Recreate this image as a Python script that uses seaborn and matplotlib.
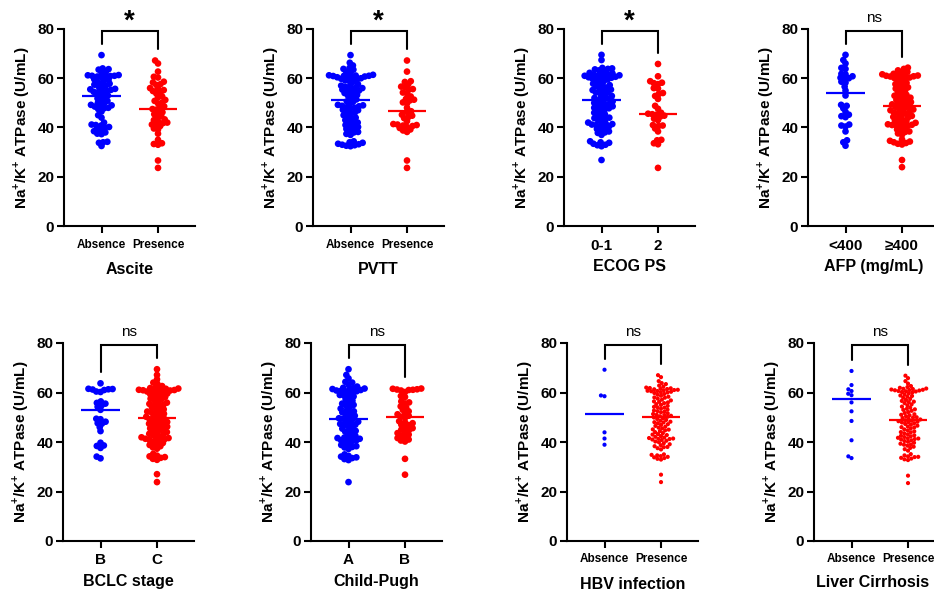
import numpy as np
import pandas as pd
import matplotlib
matplotlib.use("Agg")
import matplotlib.pyplot as plt
import seaborn as sns

BLUE = "#0000FF"
RED = "#FF0000"

# Na+/K+ ATPase values (U/mL)
ascite_absence = [69.4, 64.0, 63.7, 63.5, 62.5, 62.3, 61.3, 61.2, 61.0, 61.0, 60.9, 60.8, 60.7, 60.5,
                  59.6, 59.4, 59.2, 58.6, 58.0, 57.8, 57.4, 57.0, 56.8, 56.2, 55.7, 55.5, 55.3, 55.0,
                  54.8, 54.5, 54.2, 53.6, 53.0, 52.8, 52.0, 51.8, 51.0, 50.8, 50.0, 49.8, 49.2, 49.0,
                  48.8, 48.5, 48.0, 47.8, 47.5, 46.5, 45.0, 44.0, 42.0, 41.2, 41.0, 40.8, 40.2, 40.0,
                  39.5, 39.0, 38.5, 38.0, 37.5, 37.3, 34.2, 34.0, 33.8, 32.5]
ascite_presence = [67.2, 66.0, 62.7, 60.6, 60.3, 58.6, 58.3, 57.6, 57.3, 56.0, 55.8, 55.2, 54.8, 54.2,
                   53.8, 52.6, 52.3, 51.2, 50.8, 50.1, 49.8, 48.6, 48.3, 47.5, 47.3, 46.2, 45.8, 45.4,
                   44.6, 44.2, 43.3, 43.0, 42.6, 42.0, 41.8, 41.2, 41.0, 40.6, 39.6, 39.2, 37.5, 35.0,
                   33.6, 33.3, 33.0, 26.6, 23.6]

pvtt_absence = [69.4, 66.3, 65.2, 64.2, 63.8, 63.5, 62.6, 62.3, 61.4, 61.2, 61.1, 61.0, 61.0, 60.9,
                60.7, 60.6, 60.4, 60.2, 60.0, 59.8, 59.5, 59.2, 59.0, 58.6, 57.6, 57.4, 57.0, 56.6,
                56.2, 56.0, 55.8, 55.4, 55.2, 55.0, 54.6, 54.2, 54.0, 53.2, 53.0, 52.8, 51.6, 51.4,
                50.6, 50.4, 49.4, 49.2, 49.0, 48.8, 48.6, 48.2, 48.0, 47.8, 47.2, 47.0, 46.4, 46.0,
                45.8, 45.0, 44.4, 44.0, 43.8, 43.0, 42.4, 42.0, 41.8, 41.0, 40.8, 40.2, 40.0, 39.4,
                39.0, 38.2, 38.0, 37.4, 37.0, 34.4, 34.0, 33.8, 33.4, 33.2, 33.0, 32.8, 32.6, 32.4]
pvtt_presence = [67.2, 62.7, 58.8, 58.5, 57.5, 56.6, 56.3, 55.6, 55.3, 54.2, 53.8, 52.6, 51.6, 51.3,
                 51.0, 50.2, 49.8, 48.0, 46.6, 46.3, 45.2, 44.8, 44.2, 43.8, 42.6, 41.4, 41.2, 41.0,
                 40.8, 40.6, 40.2, 39.8, 39.2, 38.8, 38.2, 26.6, 23.6]

ecog_01 = [69.5, 67.4, 64.2, 64.0, 63.8, 63.6, 63.2, 62.8, 62.2, 62.0, 61.8, 61.6, 61.4, 61.2, 61.0,
           60.9, 60.8, 60.6, 60.4, 60.2, 60.0, 59.8, 59.5, 59.2, 58.8, 58.2, 57.8, 57.2, 57.0, 56.8,
           56.2, 55.8, 55.4, 55.2, 55.0, 54.4, 54.2, 54.0, 53.2, 52.8, 52.4, 52.0, 51.8, 51.4, 51.0,
           50.6, 50.2, 50.0, 49.6, 49.2, 49.0, 48.6, 48.4, 48.0, 47.8, 47.4, 47.0, 46.4, 46.0, 45.4,
           45.0, 44.4, 44.0, 43.8, 43.4, 43.0, 42.4, 42.0, 41.6, 41.4, 41.2, 41.0, 40.8, 40.4, 40.0,
           39.4, 39.0, 38.4, 38.0, 37.8, 37.0, 34.4, 34.0, 33.8, 33.4, 33.0, 32.8, 32.4, 26.8]
ecog_2 = [65.8, 60.8, 58.8, 58.2, 58.0, 57.6, 56.0, 55.8, 54.0, 53.6, 52.8, 51.6, 48.8, 47.6, 46.0,
          45.6, 45.4, 45.2, 44.8, 44.4, 43.6, 43.0, 41.0, 40.8, 40.6, 39.6, 38.4, 35.0, 34.8, 33.6,
          33.2, 23.6]

afp_low = [69.5, 67.4, 66.0, 64.2, 63.8, 61.8, 61.6, 60.8, 60.2, 60.0, 59.8, 58.6, 58.2, 56.6, 55.0,
           53.0, 49.2, 48.8, 47.8, 46.4, 45.2, 44.6, 44.2, 41.2, 40.8, 40.4, 38.4, 34.8, 34.0, 32.6]
afp_high = [64.3, 63.8, 63.2, 62.6, 62.4, 61.8, 61.6, 61.5, 61.3, 61.1, 61.0, 60.8, 60.7, 60.5, 60.3,
            60.1, 59.7, 59.2, 58.9, 58.1, 57.6, 57.2, 56.9, 56.3, 55.8, 55.6, 55.1, 54.4, 54.0, 53.3,
            52.9, 52.7, 52.4, 52.1, 51.6, 51.2, 50.8, 50.3, 50.0, 49.7, 49.4, 49.1, 48.8, 48.4, 48.1,
            47.7, 47.3, 47.0, 46.8, 46.5, 46.1, 45.9, 45.6, 45.2, 44.7, 44.3, 44.0, 43.9, 43.4, 42.8,
            42.5, 42.3, 41.9, 41.6, 41.3, 41.1, 41.0, 40.9, 40.7, 40.3, 39.8, 39.2, 38.7, 38.4, 38.2,
            37.6, 37.1, 35.2, 34.6, 34.3, 34.0, 33.7, 33.4, 33.1, 26.8, 23.9]

bclc_b = [63.7, 61.5, 61.4, 61.3, 61.2, 61.0, 60.4, 60.2, 56.4, 55.8, 55.5, 54.8, 54.2, 53.0, 49.4,
          49.2, 48.2, 47.6, 47.4, 46.0, 44.4, 39.7, 38.6, 38.4, 37.6, 34.1, 33.4]
bclc_c = [69.4, 67.1, 65.3, 64.0, 63.5, 62.6, 62.0, 61.8, 61.6, 61.5, 61.3, 61.1, 61.0, 60.9, 60.8,
          60.6, 60.4, 60.2, 60.0, 59.6, 59.3, 59.0, 58.5, 58.2, 57.8, 57.5, 57.3, 56.8, 56.2, 55.9,
          55.4, 55.2, 55.0, 54.6, 54.1, 53.6, 53.2, 52.8, 52.3, 52.0, 51.9, 51.4, 51.1, 50.6, 50.2,
          49.8, 49.5, 49.2, 48.9, 48.5, 48.1, 47.8, 47.4, 47.2, 47.0, 46.6, 46.2, 45.8, 45.5, 45.3,
          44.9, 44.4, 44.0, 43.6, 43.3, 43.1, 42.7, 42.2, 41.9, 41.6, 41.5, 41.3, 41.1, 40.8, 40.5,
          40.1, 39.6, 39.2, 38.8, 38.3, 37.8, 37.3, 35.2, 34.5, 34.2, 33.9, 33.6, 33.2, 32.8, 27.0,
          23.8]

child_a = [69.4, 67.1, 65.7, 64.3, 64.0, 63.2, 62.4, 61.9, 61.7, 61.6, 61.4, 61.2, 61.0, 60.8, 60.6,
           60.5, 60.4, 60.1, 59.6, 59.0, 58.8, 58.4, 57.9, 57.3, 56.7, 56.1, 55.5, 55.0, 54.8, 54.2,
           53.5, 53.0, 52.4, 52.0, 51.8, 51.2, 50.6, 50.1, 49.6, 49.4, 49.2, 48.7, 48.2, 47.8, 47.3,
           47.0, 46.9, 46.4, 45.9, 45.4, 44.8, 44.5, 44.2, 43.6, 43.0, 42.5, 42.0, 41.8, 41.6, 41.3,
           41.0, 40.7, 40.5, 40.3, 39.8, 39.3, 38.8, 38.3, 38.0, 37.8, 37.2, 35.0, 34.4, 34.1, 33.8,
           33.5, 33.1, 32.7, 23.8]
child_b = [61.6, 61.5, 61.3, 61.2, 61.1, 61.0, 60.8, 60.2, 58.6, 58.2, 56.4, 56.0, 55.6, 54.4, 54.0,
           53.0, 52.4, 51.6, 51.2, 50.6, 50.2, 49.8, 48.4, 48.0, 47.6, 47.0, 46.8, 46.2, 45.6, 45.0,
           44.8, 44.2, 43.6, 43.0, 42.6, 42.2, 41.6, 41.0, 40.6, 40.2, 33.2, 26.8]

hbv_absence = [69.2, 58.8, 58.5, 43.9, 41.4, 38.9]
hbv_presence = [67.0, 66.2, 64.6, 63.8, 63.4, 62.8, 62.4, 62.0, 61.8, 61.7, 61.5, 61.4, 61.3, 61.1,
                61.0, 60.9, 60.7, 60.6, 60.5, 60.3, 60.1, 60.0, 59.8, 59.4, 59.1, 58.7, 58.3, 58.0,
                57.9, 57.5, 57.1, 56.8, 56.4, 56.2, 56.0, 55.7, 55.3, 55.0, 54.6, 54.2, 54.0, 53.9,
                53.5, 53.1, 52.7, 52.5, 52.3, 52.0, 51.6, 51.3, 51.0, 50.9, 50.6, 50.4, 50.2, 49.9,
                49.6, 49.3, 48.9, 48.6, 48.2, 48.0, 47.9, 47.6, 47.2, 46.9, 46.5, 46.2, 45.8, 45.5,
                45.1, 45.0, 44.7, 44.4, 44.0, 43.6, 43.2, 43.0, 42.8, 42.4, 42.1, 41.8, 41.6, 41.4,
                41.3, 41.2, 41.0, 40.8, 40.5, 40.2, 39.9, 39.5, 39.1, 38.7, 38.3, 38.0, 37.9, 37.5,
                37.0, 35.0, 34.8, 34.6, 34.3, 34.0, 33.8, 33.5, 33.2, 32.9, 26.8, 23.8]

lc_absence = [68.7, 63.0, 61.3, 60.6, 59.5, 58.9, 56.0, 52.4, 48.5, 40.7, 34.2, 33.5]
lc_presence = [66.8, 65.8, 64.6, 63.6, 62.6, 62.2, 61.9, 61.6, 61.5, 61.4, 61.2, 61.1, 61.0, 60.9,
               60.8, 60.6, 60.5, 60.4, 60.2, 60.0, 59.6, 59.2, 58.8, 58.6, 58.3, 57.9, 57.4, 57.0,
               56.6, 56.3, 56.1, 55.7, 55.2, 54.8, 54.3, 53.9, 53.4, 53.2, 53.0, 52.6, 52.1, 51.7,
               51.2, 51.0, 50.8, 50.4, 50.0, 49.9, 49.7, 49.4, 49.1, 48.8, 48.6, 48.4, 48.2, 48.0,
               47.9, 47.6, 47.3, 47.0, 46.6, 46.3, 46.0, 45.9, 45.5, 45.1, 44.7, 44.3, 44.0, 43.9,
               43.5, 43.1, 42.7, 42.5, 42.3, 42.0, 41.7, 41.5, 41.4, 41.2, 41.0, 40.7, 40.4, 40.1,
               39.7, 39.3, 39.0, 38.9, 38.5, 38.1, 37.6, 37.1, 36.5, 35.1, 34.6, 34.2, 34.0, 33.9,
               33.6, 33.3, 33.0, 32.7, 26.4, 23.4]

# (x title, category labels, group A, group B, significance)
panels = [
    ("Ascite", ["Absence", "Presence"], ascite_absence, ascite_presence, "*"),
    ("PVTT", ["Absence", "Presence"], pvtt_absence, pvtt_presence, "*"),
    ("ECOG PS", ["0-1", "2"], ecog_01, ecog_2, "*"),
    ("AFP (mg/mL)", ["<400", "≥400"], afp_low, afp_high, "ns"),
    ("BCLC stage", ["B", "C"], bclc_b, bclc_c, "ns"),
    ("Child-Pugh", ["A", "B"], child_a, child_b, "ns"),
    ("HBV infection", ["Absence", "Presence"], hbv_absence, hbv_presence, "ns"),
    ("Liver Cirrhosis", ["Absence", "Presence"], lc_absence, lc_presence, "ns"),
]

sns.set_style("ticks")
plt.rcParams["font.family"] = ["Liberation Sans", "DejaVu Sans"]
plt.rcParams["mathtext.fontset"] = "custom"
plt.rcParams["mathtext.rm"] = "Liberation Sans"
plt.rcParams["mathtext.bf"] = "Liberation Sans:bold"
for key in ["text.color", "axes.labelcolor", "xtick.color", "ytick.color", "axes.edgecolor"]:
    plt.rcParams[key] = "black"

W, H = 934, 592
fig = plt.figure(figsize=(W / 100, H / 100), dpi=100)

# axes left edges in pixels, row tops/bottoms
lefts = [64, 313, 564, 808, 63, 311, 567, 814]
rows = [(29, 226), (343, 541)]
ax_w = 131

swarm_cols = []
for i, (title, labels, a, b, sig) in enumerate(panels):
    top, bot = rows[i // 4]
    ax = fig.add_axes([lefts[i] / W, 1 - bot / H, ax_w / W, (bot - top) / H])
    df = pd.DataFrame({"group": [labels[0]] * len(a) + [labels[1]] * len(b),
                       "value": a + b})
    small = i >= 6
    sns.swarmplot(data=df, x="group", y="value", hue="group", order=labels,
                  hue_order=labels, palette=[BLUE, RED], size=2.5 if small else 2.9,
                  linewidth=0, legend=False, ax=ax)
    swarm_cols.append((ax.collections[:], 3.0 if small else 4.8))

    for k, vals in enumerate([a, b]):
        ax.hlines(np.median(vals), k - 0.34, k + 0.34, color=[BLUE, RED][k], lw=1.6, zorder=3)

    # significance bracket
    l0 = max(a) + 4.5
    l1 = max(b) + 4.5
    ax.plot([0, 0, 1, 1], [l0, 79, 79, l1], color="black", lw=1.5, clip_on=False,
            solid_joinstyle="miter")
    if sig == "*":
        ax.text(0.5, 80.0, sig, ha="center", va="baseline", fontsize=20,
                fontweight="bold", clip_on=False)
    else:
        ax.text(0.5, 82.7, sig, ha="center", va="baseline", fontsize=11, clip_on=False)

    ax.set_xlim(-0.664, 1.655)
    ax.set_ylim(0, 80)
    ax.set_yticks([0, 20, 40, 60, 80])
    ax.set_xticks([0, 1])
    ax.set_xticklabels(labels)
    sns.despine(ax=ax)
    for s in ["left", "bottom"]:
        ax.spines[s].set_linewidth(1.5)
    ax.tick_params(width=1.5, length=5, labelsize=11, pad=2)
    ax.tick_params(axis="x", pad=4)
    if labels[0] == "Absence":
        ax.tick_params(axis="x", labelsize=8.5)
    for t in ax.get_xticklabels() + ax.get_yticklabels():
        t.set_fontweight("bold")
    ax.set_xlabel(title, fontsize=11.5, fontweight="bold", labelpad=8 if labels[0] == "Absence" else 5)
    ax.set_ylabel(r"Na$^\mathbf{+}$/K$^\mathbf{+}$ ATPase (U/mL)", fontsize=11,
                  fontweight="bold", labelpad=4)
    if i == 7:
        # keep the last title inside the canvas
        ax.xaxis.set_label_coords(0.45, -0.17)

# lay the swarms out with a small marker, then freeze and enlarge the dots
fig.canvas.draw()
for cols, dot in swarm_cols:
    for c in cols:
        if "draw" in c.__dict__:
            del c.draw
        c.set_sizes([dot ** 2])

fig.savefig("out.png", dpi=100)
